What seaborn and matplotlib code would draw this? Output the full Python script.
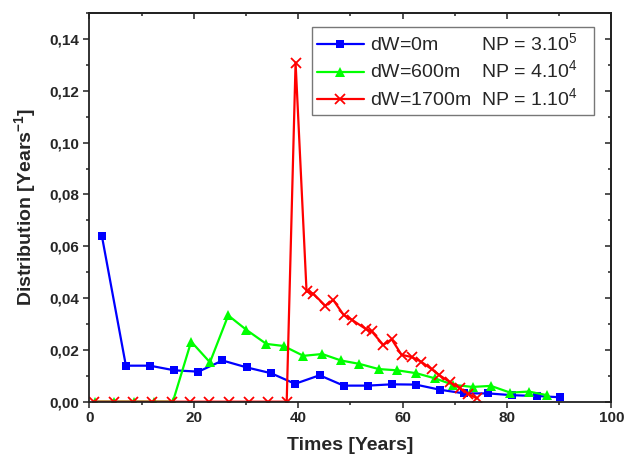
import matplotlib
matplotlib.use("Agg")
import matplotlib.pyplot as plt
from matplotlib.ticker import MultipleLocator, FuncFormatter
import seaborn as sns

# values
blue_x = [2.4, 7.0, 11.6, 16.3, 20.9, 25.5, 30.2, 34.8, 39.4, 44.1,
          48.7, 53.3, 57.9, 62.5, 67.2, 71.8, 76.4, 81.0, 85.7, 90.2]
blue_y = [0.0640, 0.0139, 0.0139, 0.0121, 0.0116, 0.0159, 0.0132, 0.0110, 0.0069, 0.0102,
          0.0062, 0.0062, 0.0067, 0.0066, 0.0046, 0.0032, 0.0032, 0.0025, 0.0022, 0.0017]

green_x = [1.0, 4.7, 8.5, 12.3, 16.0, 19.5, 23.1, 26.6, 30.1, 33.9, 37.2, 41.0, 44.6,
           48.2, 51.7, 55.4, 59.0, 62.6, 66.2, 69.7, 73.4, 76.9, 80.6, 84.2, 87.7]
green_y = [0.0, 0.0, 0.0, 0.0, 0.0, 0.0232, 0.0152, 0.0333, 0.0277, 0.0223, 0.0215, 0.0177, 0.0184,
           0.0159, 0.0146, 0.0126, 0.0121, 0.0110, 0.0090, 0.0065, 0.0057, 0.0061, 0.0035, 0.0039, 0.0025]

red_x = [0.8, 4.7, 8.3, 12.0, 15.8, 19.3, 23.0, 26.8, 30.5, 34.2, 37.8, 39.5, 41.6,
         42.9, 45.2, 46.7, 48.7, 50.3, 53.0, 54.1, 56.3, 57.9, 59.8, 61.8, 63.5,
         65.6, 67.0, 69.1, 71.0, 72.6, 74.2]
red_y = [0.0, 0.0, 0.0, 0.0, 0.0, 0.0, 0.0, 0.0, 0.0, 0.0, 0.0, 0.1309, 0.0426,
         0.0417, 0.0370, 0.0393, 0.0335, 0.0316, 0.0280, 0.0271, 0.0219, 0.0241, 0.0181, 0.0172, 0.0155,
         0.0125, 0.0103, 0.0075, 0.0052, 0.0030, 0.0013]

labels = ["dW=0m        NP = 3.10$^5$   ",
          "dW=600m    NP = 4.10$^4$   ",
          "dW=1700m  NP = 1.10$^4$   "]

sns.set_style("ticks")
plt.rcParams["font.family"] = ["Liberation Sans", "DejaVu Sans"]
plt.rcParams["mathtext.fontset"] = "custom"
plt.rcParams["mathtext.rm"] = "Liberation Sans"
plt.rcParams["mathtext.bf"] = "Liberation Sans:bold"

fig = plt.figure(figsize=(6.26, 4.66), dpi=100)
ax = fig.add_axes([0.1427, 0.138, 0.9768 - 0.1427, 0.972 - 0.138])

sns.lineplot(x=blue_x, y=blue_y, ax=ax, color="#0000ff", marker="s", markersize=6,
             markeredgewidth=0, markeredgecolor="#0000ff", linewidth=1.6,
             estimator=None, label=labels[0])
sns.lineplot(x=green_x, y=green_y, ax=ax, color="#00ff00", marker="^", markersize=7.5,
             markeredgewidth=0, markeredgecolor="#00ff00", linewidth=1.6,
             estimator=None, label=labels[1])
sns.lineplot(x=red_x, y=red_y, ax=ax, color="#ff0000", marker="x", markersize=7.5,
             markeredgewidth=1.3, markeredgecolor="#ff0000", linewidth=1.6,
             estimator=None, label=labels[2])

ax.set_xlim(0, 100)
ax.set_ylim(0, 0.15)
ax.xaxis.set_major_locator(MultipleLocator(20))
ax.xaxis.set_minor_locator(MultipleLocator(10))
ax.yaxis.set_major_locator(MultipleLocator(0.02))
ax.yaxis.set_minor_locator(MultipleLocator(0.01))
ax.yaxis.set_major_formatter(FuncFormatter(lambda v, p: f"{v:.2f}".replace(".", ",")))
ax.xaxis.set_major_formatter(FuncFormatter(lambda v, p: f"{v:.0f}"))

spine_col = "#222222"
for s in ax.spines.values():
    s.set_visible(True)
    s.set_linewidth(1.3)
    s.set_color(spine_col)

ax.tick_params(which="major", direction="out", length=4, width=1.1, color=spine_col,
               labelsize=11, pad=3)
ax.tick_params(which="minor", direction="out", length=2.5, width=1.1, color=spine_col)
for t in ax.get_xticklabels() + ax.get_yticklabels():
    t.set_fontweight("bold")

# inward ticks on top and right, as in the original
top = ax.secondary_xaxis("top")
top.xaxis.set_major_locator(MultipleLocator(20))
top.xaxis.set_minor_locator(MultipleLocator(10))
top.tick_params(which="major", direction="in", length=4, width=1.1, color=spine_col, labeltop=False)
top.tick_params(which="minor", direction="in", length=2.5, width=1.1, color=spine_col)
right = ax.secondary_yaxis("right")
right.yaxis.set_major_locator(MultipleLocator(0.02))
right.yaxis.set_minor_locator(MultipleLocator(0.01))
right.tick_params(which="major", direction="in", length=4, width=1.1, color=spine_col, labelright=False)
right.tick_params(which="minor", direction="in", length=2.5, width=1.1, color=spine_col)
for sec in (top, right):
    for s in sec.spines.values():
        s.set_linewidth(1.3)
        s.set_color(spine_col)

ax.set_xlabel("Times [Years]", fontsize=14, fontweight="bold", labelpad=8)
ax.set_ylabel(r"Distribution [Years$^{\mathbf{-1}}$]", fontsize=14, fontweight="bold", labelpad=8)

leg = ax.legend(loc="upper left", bbox_to_anchor=(0.427, 0.963), fontsize=14, frameon=True,
                fancybox=False, edgecolor="#555555", handlelength=2.4, handletextpad=0.3,
                borderpad=0.25, labelspacing=0.25, borderaxespad=0, numpoints=1)
leg.get_frame().set_linewidth(1.0)

fig.savefig("out.png", dpi=100)
